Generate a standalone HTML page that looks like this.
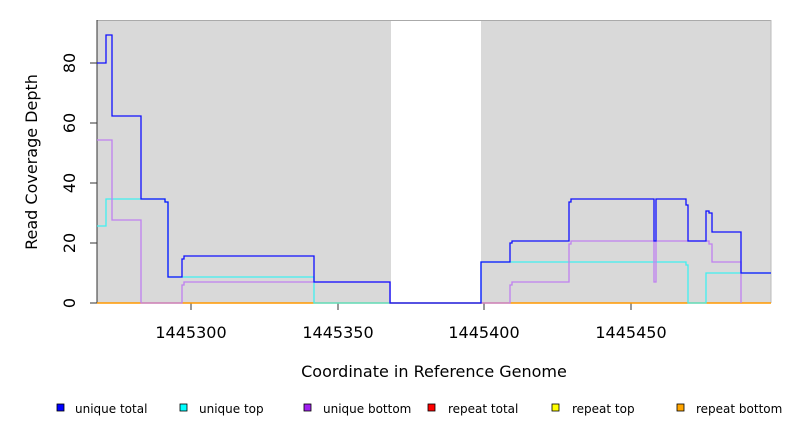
<!DOCTYPE html><html><head><style>body{margin:0;background:#fff}svg{font-family:"DejaVu Sans","Liberation Sans",sans-serif}</style></head><body>
<svg width="792" height="432" xmlns="http://www.w3.org/2000/svg">
<rect x="97" y="20" width="674" height="283" fill="#d9d9d9"/>
<rect x="391" y="21" width="90" height="282" fill="#fff"/>
<line x1="97" y1="20.5" x2="771" y2="20.5" stroke="#aaa"/>
<line x1="771" y1="20" x2="771" y2="303" stroke="#bbb"/>
<g stroke="#333" stroke-width="1">
<line x1="97" y1="20" x2="97" y2="303"/>
<line x1="90" y1="303" x2="97" y2="303"/><line x1="90" y1="243" x2="97" y2="243"/><line x1="90" y1="183" x2="97" y2="183"/><line x1="90" y1="123" x2="97" y2="123"/><line x1="90" y1="63" x2="97" y2="63"/>
<line x1="191" y1="303" x2="191" y2="310"/><line x1="338" y1="303" x2="338" y2="310"/><line x1="484" y1="303" x2="484" y2="310"/><line x1="631" y1="303" x2="631" y2="310"/>
</g>
<g font-size="16" fill="#000" text-anchor="middle">
<text transform="translate(75,303) rotate(-90)">0</text>
<text transform="translate(75,243) rotate(-90)">20</text>
<text transform="translate(75,183) rotate(-90)">40</text>
<text transform="translate(75,123) rotate(-90)">60</text>
<text transform="translate(75,63) rotate(-90)">80</text>
<text x="191" y="338">1445300</text><text x="338" y="338">1445350</text><text x="484" y="338">1445400</text><text x="631" y="338">1445450</text>
<text x="434" y="377">Coordinate in Reference Genome</text>
<text transform="translate(37,162) rotate(-90)">Read Coverage Depth</text>
</g>
<line x1="97" y1="303" x2="771" y2="303" stroke="#f90" stroke-width="1.5"/>
<g fill="none" stroke-width="1.3">
<polyline stroke="#40f0f0" points="97,226 106,226 106,199 165,199 165,202 168,202 168,277 314,277 314,303 481,303 481,262 686,262 686,265 688,265 688,303 706,303 706,273 771,273"/>
<polyline stroke="#c080f0" points="97,140 112,140 112,220 141,220 141,303 182,303 182,285 184,285 184,282 390,282 390,303 510,303 510,285 512,285 512,282 569,282 569,244 571,244 571,241 654,241 654,282 656,282 656,241 709,241 709,244 712,244 712,262 741,262 741,303"/>
<polyline stroke="#1010ff" points="97,63 106,63 106,35 112,35 112,116 141,116 141,199 165,199 165,202 168,202 168,277 182,277 182,259 184,259 184,256 314,256 314,282 390,282 390,303 481,303 481,262 510,262 510,243 512,243 512,241 569,241 569,202 571,202 571,199 654,199 654,241 656,241 656,199 686,199 686,205 688,205 688,241 706,241 706,211 709,211 709,213 712,213 712,232 741,232 741,273 771,273"/>
</g>
<g font-size="12" fill="#000" stroke="#000" stroke-width="0.8">
<rect x="57" y="404" width="7" height="7" fill="#00f"/><text x="75" y="413" stroke="none">unique total</text>
<rect x="180" y="404" width="7" height="7" fill="#0ff"/><text x="199" y="413" stroke="none">unique top</text>
<rect x="304" y="404" width="7" height="7" fill="#a020f0"/><text x="323" y="413" stroke="none">unique bottom</text>
<rect x="428" y="404" width="7" height="7" fill="#f00"/><text x="448" y="413" stroke="none">repeat total</text>
<rect x="552" y="404" width="7" height="7" fill="#ff0"/><text x="572" y="413" stroke="none">repeat top</text>
<rect x="677" y="404" width="7" height="7" fill="#ffa500"/><text x="696" y="413" stroke="none">repeat bottom</text>
</g>
</svg></body></html>
